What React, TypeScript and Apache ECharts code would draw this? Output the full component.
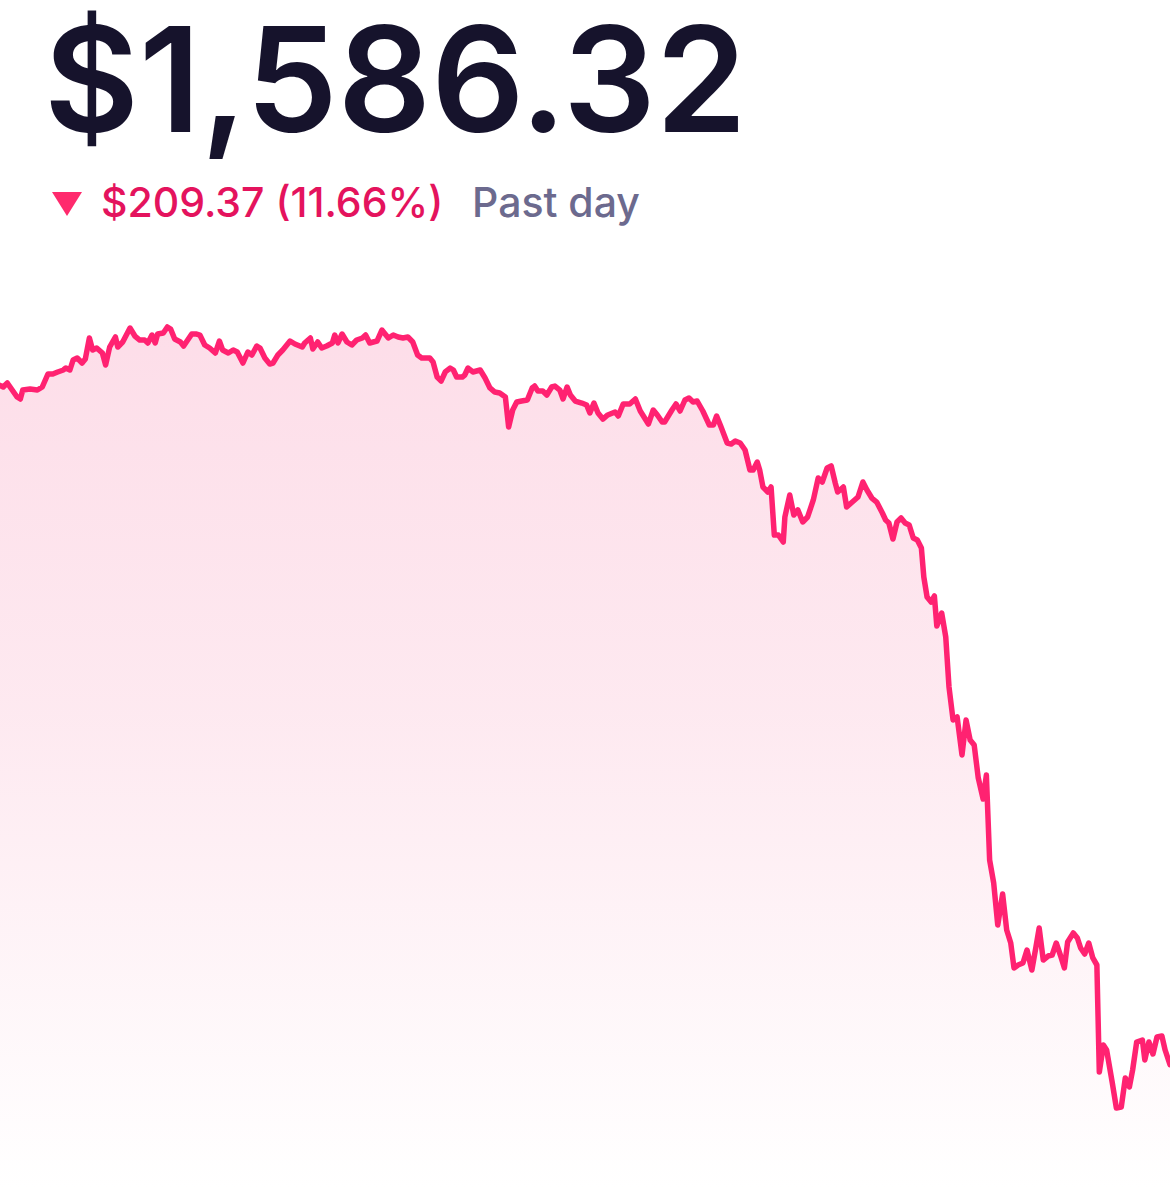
import React, { useEffect, useRef } from "react";
import * as echarts from "echarts";

// Headline texts
const priceText = "$1,586.32";
const changeText = "$209.37 (11.66%)";
const periodText = "Past day";

// Minutes since start of the past-day window
const minutes = [
  0, 4, 9, 15, 21, 25, 28, 37, 46, 52, 59, 65, 71, 78, 81, 86, 90, 95, 101, 105, 110, 114, 119, 126, 130, 135, 142, 145, 151, 160, 166, 172, 178, 182, 187, 191, 194, 201, 206, 210, 215, 222, 226, 231, 236, 242,
  246, 252, 258, 265, 270, 274, 281, 287, 292, 299, 305, 310, 316, 320, 326, 332, 336, 342, 348, 357, 363, 372, 375, 382, 385, 391, 396, 402, 409, 412, 416, 421, 427, 433, 439, 446, 450, 455, 464, 470, 478, 484, 490, 496, 502,
  508, 514, 519, 529, 533, 538, 543, 548, 554, 558, 562, 569, 572, 576, 582, 591, 597, 603, 609, 615, 622, 626, 631, 636, 642, 649, 655, 658, 662, 668, 673, 679, 683, 689, 693, 698, 702, 708, 716, 722, 726, 731, 736, 742, 748, 757, 761,
  767, 775, 782, 788, 798, 804, 809, 815, 818, 827, 832, 837, 843, 848, 853, 858, 865, 873, 878, 882, 887, 895, 900, 905, 911, 917, 923, 927, 932, 935, 939, 945, 949, 953, 958, 964,
  966, 972, 977, 982, 988, 994, 1001, 1007, 1012, 1018, 1023, 1028, 1031, 1038, 1042, 1049, 1056, 1062, 1067, 1073, 1079, 1086, 1090, 1094, 1099, 1104, 1109, 1114, 1119, 1124, 1129, 1134,
  1137, 1141, 1146, 1150, 1153, 1159, 1164, 1168, 1173, 1178, 1184, 1189, 1194, 1199, 1204, 1210, 1214, 1218, 1223, 1228, 1234, 1239, 1244, 1248, 1253, 1259, 1264, 1270, 1275, 1279, 1284, 1290, 1295, 1300, 1305, 1310, 1314, 1321, 1326, 1330, 1335, 1340, 1345, 1350, 1353, 1358, 1362, 1369, 1374, 1380, 1385, 1390, 1394, 1399, 1406, 1409, 1414, 1419, 1424, 1430, 1434, 1440,
];

// Price (USD) at each of those minutes
const prices = [
  1795.69, 1795.19, 1796.42, 1794.26, 1792.10, 1791.49, 1794.26, 1794.57, 1794.26, 1795.19, 1799.19, 1799.19, 1799.81, 1800.43, 1801.04, 1800.43, 1803.51, 1804.12, 1802.58, 1803.82, 1810.29, 1806.59, 1807.21, 1805.66, 1801.97, 1807.51, 1810.60, 1807.51, 1809.05, 1813.37, 1810.90, 1809.67, 1809.67, 1808.75, 1811.21, 1808.75, 1811.52, 1811.83, 1813.68, 1813.06, 1809.98, 1809.05, 1807.82, 1809.67, 1811.52, 1811.52,
  1811.21, 1808.13, 1807.21, 1805.66, 1809.36, 1806.59, 1805.66, 1806.59, 1805.97, 1802.58, 1805.97, 1805.05, 1807.82, 1807.21, 1804.12, 1802.27, 1802.58, 1805.05, 1806.59, 1809.36, 1808.44, 1807.51, 1808.75, 1810.29, 1806.90, 1809.05, 1807.21, 1807.82, 1808.75, 1811.21, 1808.75, 1811.52, 1809.05, 1808.13, 1809.67, 1810.29, 1811.21, 1808.75, 1809.36, 1812.75, 1810.29, 1811.21, 1810.60, 1810.29, 1810.60,
  1809.05, 1805.05, 1804.12, 1804.12, 1802.89, 1798.27, 1797.04, 1799.81, 1801.04, 1800.43, 1798.27, 1798.27, 1798.88, 1801.04, 1799.81, 1800.43, 1797.96, 1794.88, 1793.64, 1793.34, 1792.10, 1782.86, 1788.10, 1790.56, 1790.87, 1791.18, 1794.88, 1795.49, 1793.95, 1793.95, 1792.72, 1795.19, 1795.49, 1794.26, 1791.49, 1795.19, 1792.72, 1790.87, 1790.25, 1789.64, 1787.17, 1790.25, 1787.17, 1785.32, 1786.56, 1787.48, 1786.25,
  1789.95, 1789.95, 1791.49, 1787.79, 1783.78, 1788.10, 1786.56, 1784.40, 1784.40, 1788.10, 1789.95, 1787.79, 1791.18, 1791.80, 1790.56, 1790.87, 1787.79, 1783.47, 1783.47, 1786.25, 1783.17, 1777.93, 1777.62, 1778.54, 1777.93, 1775.77, 1769.60, 1769.60, 1772.07, 1769.60, 1764.36, 1762.82, 1764.36, 1749.57, 1749.57, 1747.41,
  1755.12, 1761.90, 1755.73, 1757.28, 1753.58, 1755.12, 1760.36, 1767.14, 1765.91, 1770.22, 1770.84, 1765.60, 1762.82, 1764.36, 1758.20, 1759.74, 1761.28, 1765.91, 1763.44, 1760.97, 1759.74, 1756.35, 1754.19, 1753.27, 1748.34, 1753.58, 1754.81, 1753.27, 1752.65, 1748.65, 1748.03, 1745.56,
  1736.63, 1730.46, 1728.92, 1730.77, 1721.52, 1725.53, 1718.13, 1702.72, 1692.55, 1693.48, 1681.76, 1692.55, 1686.39, 1684.85, 1674.68, 1668.20, 1675.60, 1649.40, 1642.31, 1629.37, 1638.92, 1627.83, 1623.82, 1616.12, 1617.04, 1617.66, 1621.66, 1615.50, 1622.59, 1628.44, 1618.58, 1619.81, 1620.12, 1623.82, 1620.12, 1616.12, 1624.13, 1626.90, 1625.36, 1622.28, 1620.43, 1623.82, 1619.20, 1617.04, 1584.06, 1592.38, 1590.84, 1580.67, 1572.97, 1573.27, 1582.21, 1579.44, 1584.68, 1593.31, 1593.92, 1587.76, 1593.31, 1589.61, 1594.85, 1595.16, 1590.84, 1586.32,
];

const LINE = "#FF2271";

export default function App() {
  const ref = useRef<HTMLDivElement>(null);

  useEffect(() => {
    if (!ref.current) return;
    const chart = echarts.init(ref.current, null, { renderer: "svg" });
    const data = minutes.map((m, i) => [m, prices[i]]);
    chart.setOption({
      animation: false,
      backgroundColor: "#FFFFFF",
      grid: { left: 0, right: 0, top: 300, bottom: 0 },
      xAxis: {
        type: "value",
        min: 0,
        max: 1440,
        show: false,
      },
      yAxis: {
        type: "value",
        min: 1548,
        max: 1822,
        show: false,
      },
      series: [
        {
          type: "line",
          data,
          symbol: "none",
          smooth: false,
          lineStyle: { color: LINE, width: 5.5, join: "round", cap: "round" },
          areaStyle: {
            color: new echarts.graphic.LinearGradient(0, 0, 0, 1, [
              { offset: 0, color: "#FCCFDF" },
              { offset: 0.45, color: "#FDE0EA" },
              { offset: 1, color: "#FFFFFF" },
            ]),
          },
        },
      ],
      graphic: [
        {
          type: "text",
          left: 44,
          top: 6,
          style: {
            text: priceText,
            fontFamily: "Inter",
            fontWeight: 600,
            fontSize: 146,
            lineHeight: 146,
            fill: "#16132C",
          },
        },
        {
          type: "polygon",
          shape: { points: [[52, 192], [82, 192], [67, 216]] },
          style: { fill: "#FF2A6D" },
        },
        {
          type: "text",
          left: 101,
          top: 181,
          style: {
            text: changeText,
            fontFamily: "Inter",
            fontWeight: 500,
            fontSize: 41,
            fill: "#E4135D",
          },
        },
        {
          type: "text",
          left: 472,
          top: 181,
          style: {
            text: periodText,
            fontFamily: "Inter",
            fontWeight: 500,
            fontSize: 41,
            fill: "#6C6A8E",
          },
        },
      ],
    });
    return () => chart.dispose();
  }, []);

  return (
    <div
      ref={ref}
      style={{ position: "fixed", left: 0, top: 0, width: 1170, height: 1189 }}
    />
  );
}
